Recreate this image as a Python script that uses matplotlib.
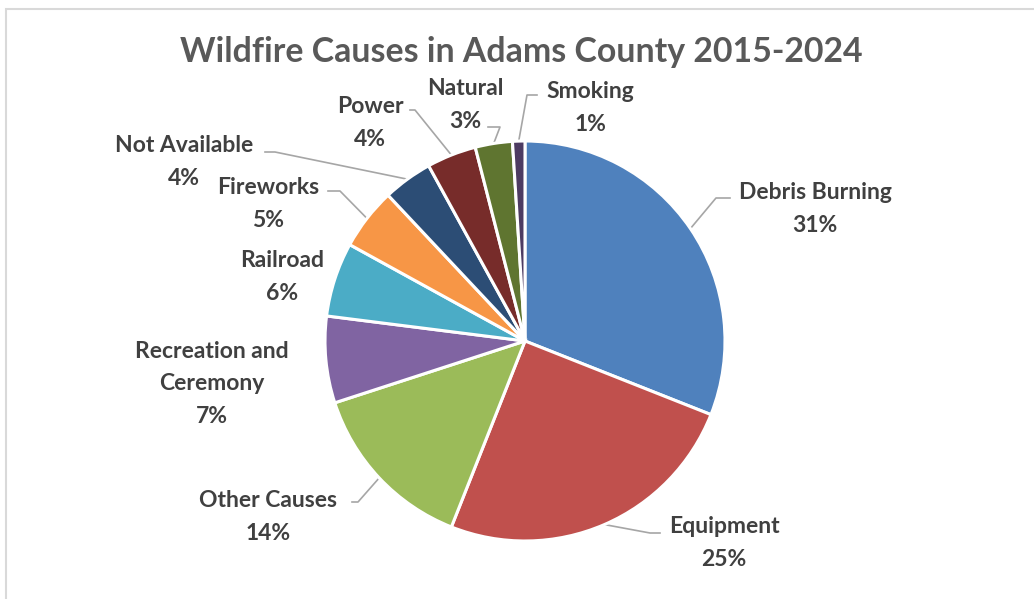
import matplotlib
matplotlib.use("Agg")
import matplotlib.pyplot as plt
import numpy as np

categories = ["Debris Burning", "Equipment", "Other Causes", "Recreation and\nCeremony",
              "Railroad", "Fireworks", "Not Available", "Power", "Natural", "Smoking"]
values = [31, 25, 14, 7, 6, 5, 4, 4, 3, 1]
colors = ["#4F81BD", "#C0504D", "#9BBB59", "#8064A2", "#4BACC6",
          "#F79646", "#2C4D75", "#772C2A", "#5F7530", "#4D3B62"]
title = "Wildfire Causes in Adams County 2015-2024"

W, H = 1034, 599
CX, CY, R = 525, 341, 200

# label layout (pixel centres of label blocks) and leader elbows (pixels), None = no leader
label_pos = [(815, 209), (724, 543), (268, 517), (212, 384), (282, 277),
             (268, 204), (184, 162), (370, 123), (465, 105), (590, 108)]
elbows = [[(716, 198), (730, 198)],
          [(650, 533), (660, 533)],
          [(358, 502), (352, 502)],
          None, None,
          [(340, 191), (328, 191)],
          [(275, 152), (265, 152)],
          [(415, 110), (410, 110)],
          [(500, 127), (488, 127)],
          [(527, 95), (537, 95)]]

FONT = "Lato"

def to_data(p):
    return ((p[0] - CX) / R, (CY - p[1]) / R)

fig = plt.figure(figsize=(W / 100, H / 100), dpi=100)
fig.patch.set_facecolor("white")

# chart border (left/top visible)
border = plt.Rectangle((6 / W, -0.05), 1.2, (H - 8.5) / H + 0.05, transform=fig.transFigure,
                       fill=False, edgecolor="#D9D9D9", linewidth=1.5)
fig.patches.append(border)

ax = fig.add_axes([(CX - R) / W, (H - CY - R) / H, 2 * R / W, 2 * R / H])

wedges, _ = ax.pie(values, colors=colors, startangle=90, counterclock=False,
                   radius=1.0, wedgeprops=dict(edgecolor="white", linewidth=2.2))
ax.set_xlim(-1, 1)
ax.set_ylim(-1, 1)
ax.axis("off")

total = sum(values)
for i, w in enumerate(wedges):
    pct = f"{round(values[i] / total * 100)}%"
    lx, ly = to_data(label_pos[i])
    ax.text(lx, ly, f"{categories[i]}\n{pct}", ha="center", va="center",
            fontsize=16.5, fontweight="bold", family=FONT, color="#404040",
            linespacing=1.65, clip_on=False)
    if elbows[i] is not None:
        mid = np.deg2rad((w.theta1 + w.theta2) / 2)
        pts = [(np.cos(mid), np.sin(mid))] + [to_data(p) for p in elbows[i]]
        xs, ys = zip(*pts)
        ax.plot(xs, ys, color="#A6A6A6", linewidth=1.2, clip_on=False, zorder=0)

fig.text(521 / W, 1 - 52 / H, title, ha="center", va="center", fontsize=24.4,
         fontweight="bold", family=FONT, color="#595959")

fig.savefig("out.png", dpi=100)
